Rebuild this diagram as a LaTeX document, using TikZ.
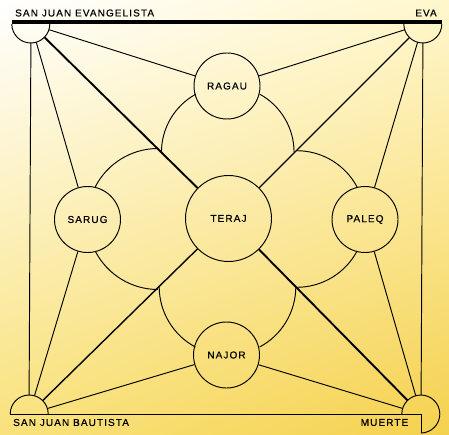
\documentclass[tikz,border=0pt]{standalone}
\usepackage{fontspec}
\newfontfamily\tagfont[LetterSpace=11,FakeBold=0.6]{Liberation Sans}
\usetikzlibrary{calc,shadings}

\definecolor{paperhi}{HTML}{FFF7CC}
\definecolor{paperlo}{HTML}{F9E27C}
\definecolor{paperdeep}{HTML}{F5D14E}

\begin{document}
\begin{tikzpicture}[x=1pt,y=1pt,
    tagtext/.style={inner sep=0pt,font=\tagfont\fontsize{10}{12}\selectfont},
    patriarch/.style={circle,draw,line width=0.95pt,minimum size=66pt,inner sep=0pt,tagtext},
    corner/.style={circle,minimum size=38pt,inner sep=0pt},
    link/.style={line width=0.95pt},
    petal/.style={line width=0.95pt}]
  \useasboundingbox (0,0) rectangle (449,434);
  \shade[upper left=white,upper right=paperhi,lower left=paperlo,lower right=paperdeep] (0,0) rectangle (449,434);

  % circles
  \node[patriarch] (ragau) at (227,348) {RAGAU};
  \node[patriarch,minimum size=86pt] (teraj) at (228.5,215.5) {TERAJ};
  \node[patriarch] (sarug) at (87.5,214.5) {SARUG};
  \node[patriarch] (paleq) at (365,214.5) {PALEQ};
  \node[patriarch] (najor) at (226.5,79) {NAJOR};

  % corners
  \node[corner] (sje) at (31,410) {};
  \node[corner] (eva) at (423,410) {};
  \node[corner] (sjb) at (29,20) {};
  \node[corner] (muerte) at (421,20) {};

  \draw[line width=4.5pt] ([yshift=2.2pt]sje.west) -- ([yshift=2.2pt]eva.east);
  \draw[link] (sje.west) arc[start angle=180,end angle=360,radius=19];
  \draw[link] (eva.west) arc[start angle=180,end angle=360,radius=19];
  \draw[link] (sjb.east) arc[start angle=0,end angle=180,radius=19];
  \draw[link] (sjb.west) -- (muerte.center) -- (muerte.south);
  \draw[link] (muerte.west) arc[start angle=180,end angle=-90,radius=19];

  \node[tagtext,anchor=west] (sjetext) at (15,421) {SAN JUAN EVANGELISTA};
  \node[tagtext] (evatext) at (426,421) {EVA};
  \node[tagtext,anchor=west] (sjbtext) at (13,11.5) {SAN JUAN BAUTISTA};
  \node[tagtext] (muertetext) at (384.5,11.5) {MUERTE};

  % flower of four big circles
  \foreach \o/\a/\r in {ragau/90/66.3, paleq/0/68.3, najor/-90/68.3, sarug/180/70.5}{
    \pgfmathsetmacro{\h}{2*asin(33/(2*\r))}
    \coordinate (mid) at ($(teraj)!0.5!(\o)$);
    \draw[petal] (mid) ++(\a+90:\r) arc[start angle=\a+90,end angle=\a+\h,radius=\r];
    \draw[petal] (mid) ++(\a-\h:\r) arc[start angle=\a-\h,end angle=\a-90,radius=\r];
  }

  % connectors
  \draw[link] (sje) -- (sjb);
  \draw[link] (eva) -- (muerte);
  \draw[link] (sje) -- (ragau);
  \draw[link] (sje) -- (sarug);
  \draw[link] (eva) -- (ragau);
  \draw[link] (eva) -- (paleq);
  \draw[link] (sjb) -- (sarug);
  \draw[link] (sjb) -- (najor);
  \draw[link] (muerte) -- (najor);
  \draw[link] (muerte) -- (paleq);
  \draw[line width=1.9pt] (sje) -- (teraj);
  \draw[line width=1.9pt] (muerte) -- (teraj);
  \draw[line width=1.4pt] (eva) -- (teraj);
  \draw[line width=1.4pt] (sjb) -- (teraj);
\end{tikzpicture}
\end{document}
